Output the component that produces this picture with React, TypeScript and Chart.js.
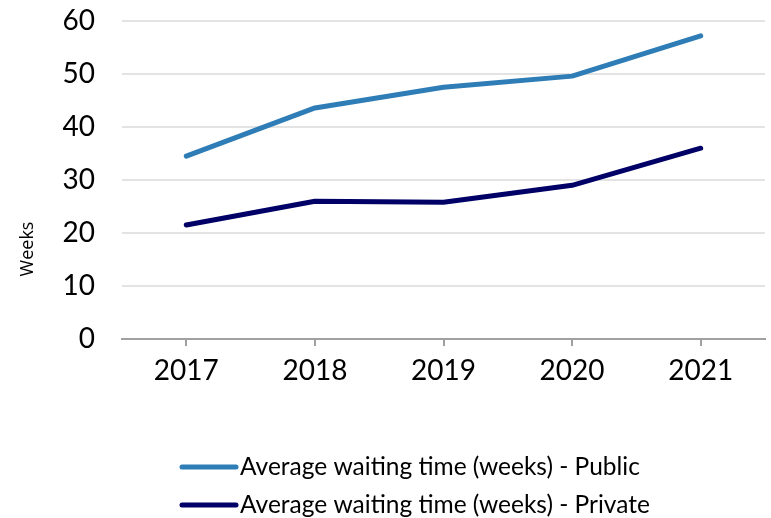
import React, { useEffect, useRef } from "react";
import { Chart, registerables } from "chart.js";

Chart.register(...registerables);

const categories = ["2017", "2018", "2019", "2020", "2021"];
const publicWait = [34.5, 43.6, 47.5, 49.6, 57.2];
const privateWait = [21.5, 26.0, 25.8, 29.0, 36.0];
const seriesLabels = [
  "Average waiting time (weeks) - Public",
  "Average waiting time (weeks) - Private",
];
const seriesColors = ["#2E7DB7", "#000066"];
const yTitle = "Weeks";

const FONT = "Lato, 'Open Sans', sans-serif";
const TITLE_FONT = "'Open Sans', sans-serif";

const overlayPlugin = {
  id: "overlay",
  afterDraw(chart: any) {
    const ctx = chart.ctx;
    ctx.save();
    ctx.fillStyle = "#000";
    ctx.font = `18px ${TITLE_FONT}`;
    ctx.translate(28, 249);
    ctx.rotate(-Math.PI / 2);
    ctx.textAlign = "center";
    ctx.textBaseline = "middle";
    ctx.fillText(yTitle, 0, 0);
    ctx.restore();

    ctx.save();
    const rows = [467, 505];
    chart.data.datasets.forEach((ds: any, i: number) => {
      const y = rows[i];
      ctx.strokeStyle = ds.borderColor;
      ctx.lineWidth = 5;
      ctx.lineCap = "round";
      ctx.beginPath();
      ctx.moveTo(182, y);
      ctx.lineTo(236, y);
      ctx.stroke();
      ctx.fillStyle = "#000";
      ctx.font = `24.5px ${FONT}`;
      ctx.textAlign = "left";
      ctx.textBaseline = "middle";
      ctx.fillText(ds.label, 240, y);
    });
    ctx.restore();
  },
};

export default function App() {
  const ref = useRef<HTMLCanvasElement | null>(null);
  useEffect(() => {
    if (!ref.current) return;
    const chart = new Chart(ref.current, {
      type: "line",
      data: {
        labels: categories,
        datasets: [
          {
            label: seriesLabels[0],
            data: publicWait,
            borderColor: seriesColors[0],
            backgroundColor: seriesColors[0],
            borderWidth: 5,
            pointRadius: 0,
            tension: 0,
            borderCapStyle: "round",
            borderJoinStyle: "round",
          },
          {
            label: seriesLabels[1],
            data: privateWait,
            borderColor: seriesColors[1],
            backgroundColor: seriesColors[1],
            borderWidth: 5,
            pointRadius: 0,
            tension: 0,
            borderCapStyle: "round",
            borderJoinStyle: "round",
          },
        ],
      },
      options: {
        animation: false,
        responsive: false,
        layout: { padding: { left: 0, right: 6, top: 21, bottom: 119 } },
        plugins: { legend: { display: false }, tooltip: { enabled: false } },
        scales: {
          x: {
            offset: true,
            grid: {
              offset: false,
              drawOnChartArea: false,
              drawTicks: true,
              tickLength: 7,
              color: "#a0a0a0",
              lineWidth: 2,
            },
            border: { display: true, color: "#a0a0a0", width: 2 },
            ticks: {
              color: "#000",
              font: { family: FONT, size: 28 },
              padding: 8,
              maxRotation: 0,
            },
            afterFit: (s: any) => {
              s.height = 60;
              s.paddingLeft = 0;
              s.paddingRight = 0;
            },
          },
          y: {
            min: 0,
            max: 60,
            grid: { color: "#e3e3e3", lineWidth: 2, drawTicks: false },
            border: { display: false },
            ticks: {
              stepSize: 10,
              color: "#000",
              font: { family: FONT, size: 28 },
              padding: 27,
            },
            afterFit: (s: any) => {
              s.width = 122;
              s.paddingTop = 0;
              s.paddingBottom = 0;
            },
          },
        },
      },
      plugins: [overlayPlugin],
    });
    return () => chart.destroy();
  }, []);
  return (
    <div style={{ position: "absolute", left: 0, top: 0, width: 771, height: 518, background: "#fff" }}>
      <canvas ref={ref} width={771} height={518} style={{ width: 771, height: 518 }} />
    </div>
  );
}
